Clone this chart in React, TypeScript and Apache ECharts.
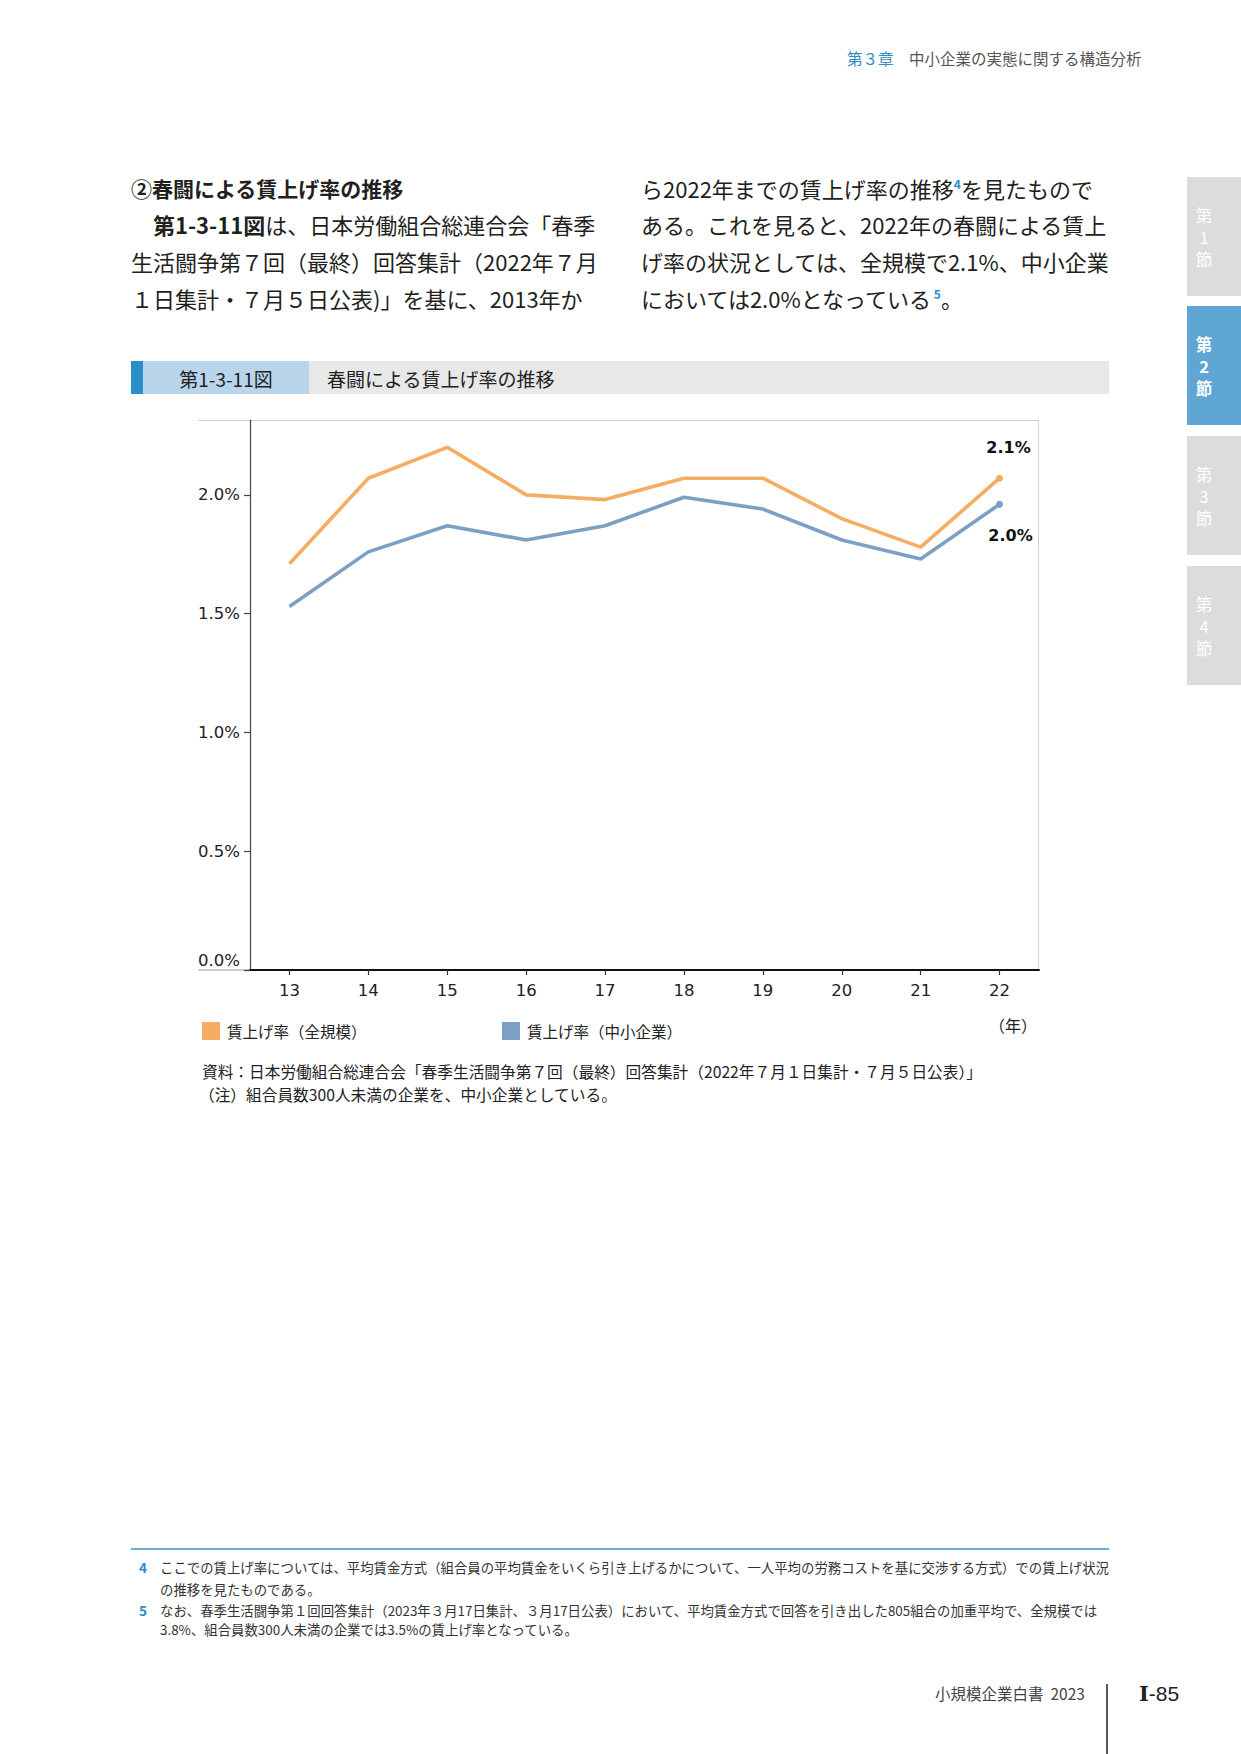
import React, { useEffect, useRef } from "react";
import * as echarts from "echarts";

// ---- data ----
const years = ["13", "14", "15", "16", "17", "18", "19", "20", "21", "22"];
const allSizeRates = [1.71, 2.07, 2.2, 2.0, 1.98, 2.07, 2.07, 1.9, 1.78, 2.07];
const smeRates = [1.53, 1.76, 1.87, 1.81, 1.87, 1.99, 1.94, 1.81, 1.73, 1.96];
const seriesNames = ["賃上げ率（全規模）", "賃上げ率（中小企業）"];
const endLabels = ["2.1%", "2.0%"];
const yTickValues = [0, 0.5, 1, 1.5, 2];
const yMax = 2.315;
const xUnit = "（年）";

const headerChapter = "第３章";
const headerTitle = "中小企業の実態に関する構造分析";
const sectionTabs = [["第", "1", "節"], ["第", "2", "節"], ["第", "3", "節"], ["第", "4", "節"]];
const activeTab = 1;

const bodyLeft = [
  "{h|②春闘による賃上げ率の推移}",
  "{b|第1-3-11図}{n|は、日本労働組合総連合会「春季}",
  "{n|生活闘争第７回（最終）回答集計（2022年７月}",
  "{n|１日集計・７月５日公表)」を基に、2013年か}",
];
const bodyRight = [
  "{n|ら2022年までの賃上げ率の推移}{s|4}{n|を見たもので}",
  "{n|ある。これを見ると、2022年の春闘による賃上}",
  "{n|げ率の状況としては、全規模で2.1%、中小企業}",
  "{n|においては2.0%となっている}{s|5}{n|。}",
];
const figNo = "第1-3-11図";
const figTitle = "春闘による賃上げ率の推移";
const notes = [
  "資料：日本労働組合総連合会「春季生活闘争第７回（最終）回答集計（2022年７月１日集計・７月５日公表）」",
  "（注）組合員数300人未満の企業を、中小企業としている。",
];
const footnotes = [
  { no: "4", lines: ["ここでの賃上げ率については、平均賃金方式（組合員の平均賃金をいくら引き上げるかについて、一人平均の労務コストを基に交渉する方式）での賃上げ状況", "の推移を見たものである。"] },
  { no: "5", lines: ["なお、春季生活闘争第１回回答集計（2023年３月17日集計、３月17日公表）において、平均賃金方式で回答を引き出した805組合の加重平均で、全規模では", "3.8%、組合員数300人未満の企業では3.5%の賃上げ率となっている。"] },
];
const footerBook = "小規模企業白書  2023";
const footerPage = "{r|Ⅰ}{d|-85}";

const JP = "'Noto Sans CJK JP', 'Noto Sans', sans-serif";
const LAT = "'DejaVu Sans', Verdana, sans-serif";
const ORANGE = "#f5ad63";
const BLUE = "#7c9fc4";
const ACCENT = "#2e8bc9";

function buildGraphics() {
  const g: any[] = [];
  // header
  g.push({ type: "text", x: 847, y: 58, style: { text: headerChapter, fill: ACCENT, fontSize: 15.5, fontFamily: JP, textVerticalAlign: "middle" } });
  g.push({ type: "text", x: 909, y: 58, style: { text: headerTitle, fill: "#555", fontSize: 15.5, fontFamily: JP, textVerticalAlign: "middle" } });
  // side tabs
  const tabTops = [177, 306, 436, 566];
  sectionTabs.forEach((chars, i) => {
    g.push({ type: "rect", shape: { x: 1187, y: tabTops[i], width: 54, height: 119 }, style: { fill: i === activeTab ? "#5fa6d5" : "#dcdcdc" } });
    chars.forEach((c, j) => {
      g.push({
        type: "text",
        x: 1204,
        y: tabTops[i] + 38 + j * 22,
        style: {
          text: c,
          fill: "#ffffff",
          fontSize: 16.5,
          fontWeight: i === activeTab ? "bold" : "normal",
          fontFamily: JP,
          textAlign: "center",
          textVerticalAlign: "middle",
        },
      });
    });
  });
  // body text
  const rich = {
    n: { fontSize: 22, fontFamily: JP, fill: "#231f20" },
    b: { fontSize: 22, fontFamily: JP, fill: "#231f20", fontWeight: "bold" },
    h: { fontSize: 21, fontFamily: JP, fill: "#231f20", fontWeight: "bold" },
    s: { fontSize: 12, fontFamily: JP, fill: ACCENT, fontWeight: "bold", verticalAlign: "top" },
  };
  const lineYs = [188, 224, 261, 298];
  bodyLeft.forEach((t, i) => {
    g.push({ type: "text", x: i === 1 ? 153 : 131, y: lineYs[i], style: { text: t, rich, fontSize: 22, fontFamily: JP, textVerticalAlign: "middle" } });
  });
  bodyRight.forEach((t, i) => {
    g.push({ type: "text", x: 641, y: lineYs[i], style: { text: t, rich, fontSize: 22, fontFamily: JP, textVerticalAlign: "middle" } });
  });
  // figure title bar
  g.push({ type: "rect", shape: { x: 131, y: 361, width: 978, height: 33 }, style: { fill: "#e8e8e8" } });
  g.push({ type: "rect", shape: { x: 131, y: 361, width: 12, height: 33 }, style: { fill: "#2b8ecb" } });
  g.push({ type: "rect", shape: { x: 143, y: 361, width: 166, height: 33 }, style: { fill: "#b8d5ec" } });
  g.push({ type: "text", x: 226, y: 378, style: { text: figNo, fill: "#222", fontSize: 19, fontFamily: JP, textAlign: "center", textVerticalAlign: "middle" } });
  g.push({ type: "text", x: 327, y: 378, style: { text: figTitle, fill: "#222", fontSize: 19, fontFamily: JP, textVerticalAlign: "middle" } });
  // chart frame (outer grey lines)
  g.push({ type: "line", z: 0, shape: { x1: 198, y1: 420.5, x2: 1039, y2: 420.5 }, style: { stroke: "#cfcfcf", lineWidth: 1.2 } });
  g.push({ type: "line", z: 0, shape: { x1: 1038.5, y1: 420, x2: 1038.5, y2: 970 }, style: { stroke: "#d5d5d5", lineWidth: 1.2 } });
  g.push({ type: "line", z: 0, shape: { x1: 198, y1: 970, x2: 250, y2: 970 }, style: { stroke: "#cccccc", lineWidth: 2 } });
  // unit
  g.push({ type: "text", x: 1013, y: 1025, style: { text: xUnit, fill: "#222", fontSize: 16, fontFamily: JP, textAlign: "center", textVerticalAlign: "middle" } });
  // notes
  g.push({ type: "text", x: 202, y: 1071, style: { text: notes[0], fill: "#222", fontSize: 15.7, fontFamily: JP, textVerticalAlign: "middle" } });
  g.push({ type: "text", x: 199, y: 1094, style: { text: notes[1], fill: "#222", fontSize: 15.7, fontFamily: JP, textVerticalAlign: "middle" } });
  // footnotes
  g.push({ type: "line", shape: { x1: 131, y1: 1549, x2: 1109, y2: 1549 }, style: { stroke: "#3b8fc8", lineWidth: 1.5 } });
  const fnYs = [[1567, 1589], [1610, 1629]];
  footnotes.forEach((f, i) => {
    g.push({ type: "text", x: 139, y: fnYs[i][0], style: { text: f.no, fill: ACCENT, fontSize: 13.5, fontWeight: "bold", fontFamily: JP, textVerticalAlign: "middle" } });
    f.lines.forEach((l, j) => {
      g.push({ type: "text", x: 160, y: fnYs[i][j], style: { text: l, fill: "#333", fontSize: 13.4, fontFamily: JP, textVerticalAlign: "middle" } });
    });
  });
  // page footer
  g.push({ type: "text", x: 935, y: 1693, style: { text: footerBook, fill: "#444", fontSize: 15.5, fontFamily: JP, textVerticalAlign: "middle" } });
  g.push({ type: "line", shape: { x1: 1107, y1: 1684, x2: 1107, y2: 1754 }, style: { stroke: "#222", lineWidth: 1.5 } });
  g.push({
    type: "text",
    x: 1139,
    y: 1693,
    style: {
      text: footerPage,
      fontSize: 21,
      fill: "#222",
      textVerticalAlign: "middle",
      rich: {
        r: { fontSize: 21, fontFamily: "'DejaVu Serif', serif", fontWeight: "bold", fill: "#222" },
        d: { fontSize: 21, fontFamily: "'Liberation Sans', Arial, sans-serif", fill: "#222" },
      },
    },
  });
  return g;
}

export default function App() {
  const ref = useRef<HTMLDivElement>(null);
  useEffect(() => {
    if (!ref.current) return;
    const chart = echarts.init(ref.current, undefined, { renderer: "svg" });
    const last = years.length - 1;
    const mkSeries = (idx: number, values: number[], color: string, labelPos: string, offset: number[]) => ({
      name: seriesNames[idx],
      type: "line",
      data: values.map((v, i) =>
        i === last
          ? {
              value: v,
              label: {
                show: true,
                position: labelPos,
                offset,
                formatter: endLabels[idx],
                fontFamily: LAT,
                fontWeight: "bold",
                fontSize: 16,
                color: "#111",
              },
            }
          : v
      ),
      symbol: "circle",
      symbolSize: (_v: any, p: any) => (p.dataIndex === last ? 7 : 0),
      showSymbol: true,
      lineStyle: { color, width: 3.6 },
      itemStyle: { color },
      silent: true,
      emphasis: { disabled: true },
      z: 3,
    });
    const legendBase = {
      top: 1022,
      padding: 0,
      itemWidth: 18,
      itemHeight: 18,
      itemGap: 0,
      icon: "rect",
      selectedMode: false,
      textStyle: { fontSize: 15.5, fontFamily: JP, color: "#222", padding: [0, 0, 0, 2] },
    };
    chart.setOption({
      animation: false,
      backgroundColor: "#ffffff",
      textStyle: { fontFamily: JP },
      grid: { left: 250, right: 202, top: 420, bottom: 784, containLabel: false },
      legend: [
        { ...legendBase, left: 202, data: [seriesNames[0]] },
        { ...legendBase, left: 502, data: [seriesNames[1]] },
      ],
      xAxis: {
        type: "category",
        data: years,
        boundaryGap: true,
        axisLine: { show: true, lineStyle: { color: "#111", width: 2 } },
        axisTick: { show: true, alignWithLabel: true, length: 5, lineStyle: { color: "#333", width: 1.2 } },
        axisLabel: { fontFamily: LAT, fontSize: 16.5, color: "#222", margin: 12 },
        splitLine: { show: false },
      },
      yAxis: {
        type: "value",
        min: 0,
        max: yMax,
        interval: 0.5,
        axisLine: { show: true, lineStyle: { color: "#444", width: 1.2 } },
        axisTick: { show: true, length: 6, customValues: yTickValues, lineStyle: { color: "#444", width: 1.2 } },
        axisLabel: {
          customValues: yTickValues,
          margin: 10,
          fontFamily: LAT,
          fontSize: 16.5,
          color: "#222",
          formatter: (v: number) => (v === 0 ? "{z|0.0%}" : v.toFixed(1) + "%"),
          rich: { z: { fontFamily: LAT, fontSize: 16.5, color: "#222", padding: [0, 0, 20, 0] } },
        },
        splitLine: { show: false },
      },
      series: [
        mkSeries(0, allSizeRates, ORANGE, "top", [9, -14]),
        mkSeries(1, smeRates, BLUE, "bottom", [11, 15]),
      ],
      graphic: buildGraphics(),
    });
    return () => chart.dispose();
  }, []);
  return (
    <div
      ref={ref}
      style={{ position: "absolute", left: 0, top: 0, width: 1241, height: 1754, background: "#fff" }}
    />
  );
}
